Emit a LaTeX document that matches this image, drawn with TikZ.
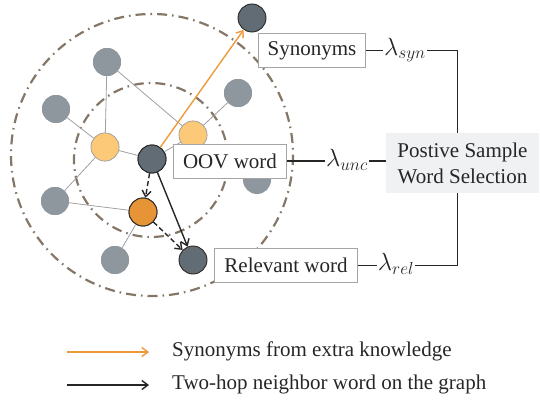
\documentclass[tikz,border=0pt]{standalone}
\usepackage{fontspec}
\setmainfont{Liberation Serif}
\newfontfamily\timesfont{Liberation Serif}
\usetikzlibrary{arrows.meta}
\definecolor{darknode}{HTML}{626C75}
\definecolor{graynode}{HTML}{8F979E}
\definecolor{lightorange}{HTML}{FCC978}
\definecolor{midorange}{HTML}{E69435}
\definecolor{arroworange}{HTML}{EE9A3A}
\definecolor{ringcol}{HTML}{857767}
\definecolor{boxborder}{HTML}{A5A5A5}
\definecolor{selfill}{HTML}{F0F1F3}
\definecolor{edgegray}{HTML}{A0A0A0}
\begin{document}
\begin{tikzpicture}[x=1pt,y=-1pt,
  every node/.style={font=\timesfont\fontsize{21}{26}\selectfont, text=black!85},
  ring/.style={draw=ringcol, line width=2.2pt, dash pattern=on 10pt off 5pt on 1.6pt off 5pt},
  dnode/.style={circle, minimum size=28pt, inner sep=0pt, fill=darknode, draw=black!85, line width=0.9pt},
  gnode/.style={circle, minimum size=28pt, inner sep=0pt, fill=graynode},
  lonode/.style={circle, minimum size=28pt, inner sep=0pt, fill=lightorange, draw=edgegray, line width=0.6pt},
  onode/.style={circle, minimum size=28pt, inner sep=0pt, fill=midorange, draw=black!85, line width=0.9pt},
  gedge/.style={draw=edgegray, line width=0.8pt},
  wbox/.style={draw=boxborder, line width=1pt, fill=white, minimum height=34pt, inner xsep=9.5pt},
  lam/.style={inner sep=1pt, font=\fontsize{24}{26}\selectfont},
  conn/.style={draw=black!85, line width=1.1pt},
  oarrow/.style={draw=arroworange, line width=1.4pt, -{Straight Barb[length=6pt,width=9pt]}},
  karrow/.style={draw=black!85, line width=1.4pt, -{Straight Barb[length=6pt,width=9pt]}},
  darrow/.style={draw=black!85, line width=1.4pt, dash pattern=on 5pt off 3pt, -{Straight Barb[length=6pt,width=9pt]}}
]
\useasboundingbox (0,0) rectangle (540,401);
% rings
\draw[ring] (152,155) circle (141);
\draw[ring] (151,160) circle (77);
% nodes (placed first to get names)
\node[dnode] (oov) at (152,159) {};
\node[dnode] (syntop) at (252,18) {};
\node[dnode] (rel) at (193,260) {};
\node[onode] (mid) at (143,212) {};
\node[lonode] (ll) at (105,147) {};
\node[lonode] (lr) at (193,135) {};
\node[gnode] (g1) at (107,62) {};
\node[gnode] (g2) at (56,109) {};
\node[gnode] (g3) at (55,201) {};
\node[gnode] (g4) at (115,260) {};
\node[gnode] (g5) at (238,93) {};
\node[gnode] (g6) at (257,180) {};
% gray edges
\path[gedge] (g1) -- (ll);
\path[gedge] (g2) -- (ll);
\path[gedge] (g3) -- (ll);
\path[gedge] (ll) -- (oov);
\path[gedge] (g1) -- (lr);
\path[gedge] (g5) -- (lr);
\path[gedge] (lr) -- (oov);
\path[gedge] (g3) -- (mid);
\path[gedge] (mid) -- (g4);
% redraw nodes on top of edges
\node[gnode] at (g1) {};
\node[gnode] at (g2) {};
\node[gnode] at (g3) {};
\node[gnode] at (g4) {};
\node[gnode] at (g5) {};
\node[lonode] at (ll) {};
\node[lonode] at (lr) {};
\node[onode] at (mid) {};
\node[dnode] at (oov) {};
% arrows
\draw[oarrow] (oov) -- (syntop);
\draw[karrow] (oov) -- (rel);
\draw[darrow] (oov) -- (mid);
\draw[darrow] (mid) -- (rel);
% boxes
\node[wbox] (synbox) at (312,50.5) {Synonyms};
\node[wbox] (oovbox) at (230,161) {OOV word};
\node[wbox] (relbox) at (286,265.5) {Relevant word};
\node[fill=selfill, minimum width=153pt, minimum height=60pt, align=center, inner sep=2pt] (sel) at (462.5,163) {Postive Sample\\Word Selection};
% lambda labels
\node[lam] (lsyn) at (405,50) {$\lambda_{syn}$};
\node[lam] (lunc) at (347,160) {$\lambda_{unc}$};
\node[lam] (lrel) at (396,264) {$\lambda_{rel}$};
\draw[conn] (synbox.east) -- (synbox.east -| lsyn.west);
\draw[conn] (lsyn.east |- synbox.east) -| ([xshift=-5pt]sel.north);
\draw[conn] (oovbox.east) -- (oovbox.east -| lunc.west);
\draw[conn] (lunc.east |- oovbox.east) -- (sel.west |- oovbox.east);
\draw[conn] (relbox.east) -- (relbox.east -| lrel.west);
\draw[conn] (lrel.east |- relbox.east) -| ([xshift=-5pt]sel.south);
% legend
\coordinate (la1) at (67,352);
\coordinate (la2) at (149,352);
\coordinate (lb1) at (67,385);
\coordinate (lb2) at (149,385);
\draw[oarrow] (la1) -- (la2);
\draw[karrow] (lb1) -- (lb2);
\node[anchor=west, inner sep=0pt] (lt1) at (172,351) {Synonyms from extra knowledge};
\node[anchor=west, inner sep=0pt] (lt2) at (172,384) {Two-hop neighbor word on the graph};
\end{tikzpicture}
\end{document}
